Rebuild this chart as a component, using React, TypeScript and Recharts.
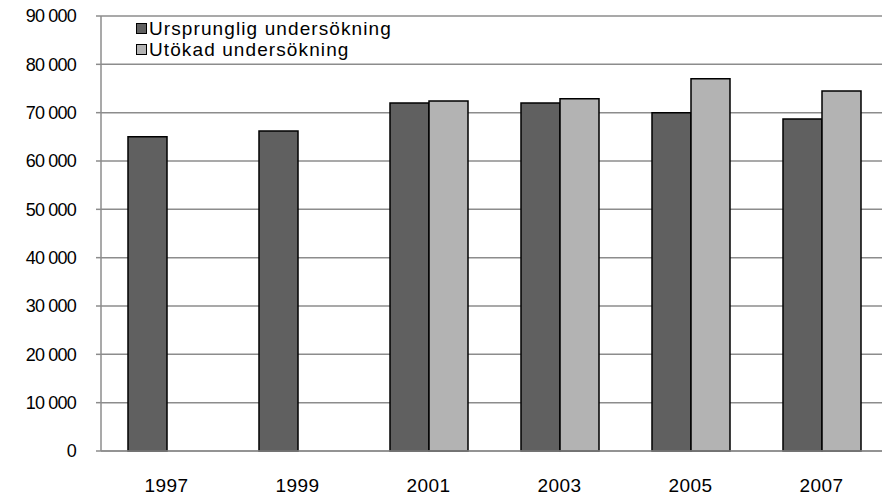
import { BarChart, Bar, XAxis, YAxis, CartesianGrid } from "recharts";

const years = ["1997", "1999", "2001", "2003", "2005", "2007"];
const ursprunglig = [65000, 66200, 72000, 72000, 70000, 68700];
const utokad: (number | null)[] = [null, null, 72400, 72900, 77000, 74500];
const yTicks = [0, 10000, 20000, 30000, 40000, 50000, 60000, 70000, 80000, 90000];

const seriesNames = ["Ursprunglig undersökning", "Utökad undersökning"];
const seriesColors = ["#606060", "#b3b3b3"];

const data = years.map((year, i) => ({
  year,
  ursprunglig: ursprunglig[i],
  utokad: utokad[i],
}));

const font = "Liberation Sans, Arial, sans-serif";

const fmt = (v: number) => (v === 0 ? "0" : `${Math.floor(v / 1000)} ${String(v % 1000).padStart(3, "0")}`);

// legend sits inside the plot, top-left
const LegendBox = () => (
  <div
    style={{
      position: "absolute",
      left: 136,
      top: 18,
      fontFamily: font,
      fontSize: 19,
      letterSpacing: 1.1,
      color: "#000",
      lineHeight: "21px",
    }}
  >
    {seriesNames.map((name, i) => (
      <div key={name} style={{ display: "flex", alignItems: "center" }}>
        <span
          style={{
            display: "inline-block",
            width: 9,
            height: 9,
            background: seriesColors[i],
            border: "1.5px solid #000",
            marginRight: 2,
          }}
        />
        <span>{name}</span>
      </div>
    ))}
  </div>
);

export default function App() {
  // the plot runs a few px past the right edge of the picture, so clip it
  return (
    <div style={{ position: "absolute", left: 0, top: 0, width: 882, height: 497, overflow: "hidden", background: "#fff" }}>
      <BarChart
        width={890}
        height={497}
        data={data}
        margin={{ top: 16, right: 3, bottom: 0, left: 0 }}
        barCategoryGap={27}
        barGap={0}
      >
        <CartesianGrid vertical={false} stroke="#8c8c8c" strokeWidth={1.5} />
        <XAxis
          dataKey="year"
          height={46}
          tickLine={false}
          tickSize={0}
          axisLine={{ stroke: "#8c8c8c", strokeWidth: 1.5 }}
          tick={{ fill: "#000", fontSize: 19, fontFamily: font, letterSpacing: 0.4 }}
          tickMargin={28}
        />
        <YAxis
          width={101}
          domain={[0, 90000]}
          ticks={yTicks}
          tickFormatter={fmt}
          interval={0}
          tickSize={5}
          tickLine={{ stroke: "#8c8c8c", strokeWidth: 1.5 }}
          axisLine={{ stroke: "#8c8c8c", strokeWidth: 1.5 }}
          tick={{ fill: "#000", fontSize: 18, fontFamily: font, letterSpacing: -0.8 }}
          tickMargin={20}
        />
        <Bar dataKey="ursprunglig" name={seriesNames[0]} fill={seriesColors[0]} stroke="#000" strokeWidth={1.5} isAnimationActive={false} />
        <Bar dataKey="utokad" name={seriesNames[1]} fill={seriesColors[1]} stroke="#000" strokeWidth={1.5} isAnimationActive={false} />
      </BarChart>
      <LegendBox />
    </div>
  );
}
